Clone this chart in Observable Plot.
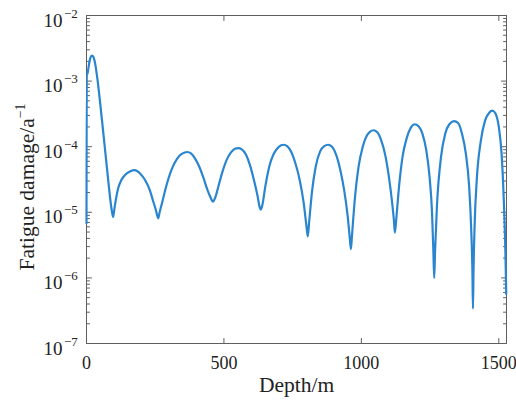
<!DOCTYPE html>
<html><head><meta charset="utf-8">
<script src="https://cdn.jsdelivr.net/npm/d3@7"></script>
<script src="https://cdn.jsdelivr.net/npm/@observablehq/plot@0.6"></script>
<style>
body{margin:0;background:#fff}
svg{font-family:"Liberation Serif","Times New Roman",serif}
</style>
</head><body><div id="chart"></div>
<script>
const depth = [0,1,3,7,12,17,21,26,32,40,50,60,70,80,88,93,97,102,108,115,125,140,158,175,195,215,230,242,252,261,266,275,290,305,320,340,355,367,380,395,410,425,440,452,460,468,480,495,510,525,540,552,565,580,595,610,622,630,634,640,650,665,680,695,708,718,730,745,760,775,790,800,805,810,820,834,850,865,879,893,908,923,938,950,958,962,966,975,990,1005,1020,1032,1044,1058,1072,1087,1100,1112,1118,1122,1127,1135,1150,1165,1180,1194,1208,1222,1236,1248,1257,1262,1265,1268,1275,1290,1305,1320,1337,1352,1366,1380,1392,1400,1404,1406,1408,1412,1420,1435,1450,1465,1477,1488,1500,1510,1518,1524,1527];
const damage = [6.8e-6,1.4e-3,1.26e-3,1.58e-3,2.1e-3,2.4e-3,2.45e-3,2.3e-3,1.8e-3,1.05e-3,4.5e-4,1.8e-4,7.1e-5,2.8e-5,1.4e-5,1.0e-5,8.5e-6,1.17e-5,1.66e-5,2.3e-5,3.0e-5,3.7e-5,4.2e-5,4.4e-5,3.9e-5,3.0e-5,2.2e-5,1.5e-5,1.1e-5,8.1e-6,1.0e-5,1.4e-5,2.5e-5,4.0e-5,5.6e-5,7.4e-5,8.1e-5,8.3e-5,7.9e-5,6.6e-5,5.0e-5,3.4e-5,2.2e-5,1.66e-5,1.45e-5,1.66e-5,2.5e-5,4.2e-5,6.3e-5,8.1e-5,9.3e-5,9.5e-5,9.1e-5,7.6e-5,5.2e-5,3.0e-5,1.8e-5,1.2e-5,1.1e-5,1.3e-5,2.4e-5,5.0e-5,7.6e-5,9.5e-5,1.05e-4,1.07e-4,1.02e-4,8.3e-5,5.6e-5,3.2e-5,1.4e-5,6.3e-6,4.3e-6,7.1e-6,2.0e-5,5.0e-5,8.5e-5,1.02e-4,1.07e-4,1.0e-4,7.6e-5,4.5e-5,2.1e-5,8.9e-6,4.0e-6,2.75e-6,4.5e-6,1.4e-5,5.0e-5,1.0e-4,1.48e-4,1.7e-4,1.78e-4,1.66e-4,1.26e-4,7.4e-5,3.5e-5,1.4e-5,7.9e-6,4.9e-6,7.9e-6,2.0e-5,7.1e-5,1.35e-4,1.95e-4,2.2e-4,2.05e-4,1.58e-4,8.9e-5,3.5e-5,1.0e-5,2.5e-6,1.0e-6,2.5e-6,1.26e-5,7.1e-5,1.58e-4,2.2e-4,2.45e-4,2.3e-4,1.58e-4,7.9e-5,2.5e-5,5.0e-6,1.26e-6,3.4e-7,1.26e-6,6.3e-6,3.2e-5,1.26e-4,2.5e-4,3.3e-4,3.55e-4,3.2e-4,2.0e-4,7.9e-5,1.6e-5,2.5e-6,5.7e-7];

const xTicks = [0, 500, 1000, 1500];
const yMajor = [1e-7, 1e-6, 1e-5, 1e-4, 1e-3, 1e-2];
const yExponents = ["\u22127", "\u22126", "\u22125", "\u22124", "\u22123", "\u22122"];
const yMinor = [];
for (let e = -7; e < -2; e++) for (let m = 2; m <= 9; m++) yMinor.push(m * Math.pow(10, e));

const xLabel = "Depth/m";
const yLabel = "Fatigue damage/a";
const yLabelSup = "\u22121";

const data = depth.map((d, i) => ({depth: d, damage: damage[i]}));

const axisColor = "#5f5f5f";
const tickShape = {draw(context, l) { context.moveTo(0, 0); context.lineTo(0, -l); }};

const tickMarks = (values, channel, frameAnchor, rotate, length) =>
  Plot.vector(values, {[channel]: d => d, frameAnchor, rotate, length, anchor: "start",
    shape: tickShape, stroke: axisColor, strokeWidth: 1});

const chart = Plot.plot({
  width: 516, height: 400,
  marginLeft: 86, marginRight: 10, marginTop: 15, marginBottom: 57,
  style: {fontFamily: '"Liberation Serif","Times New Roman",serif', background: "#fff"},
  x: {domain: [0, 1528], axis: null},
  y: {type: "log", domain: [1e-7, 1e-2], axis: null},
  marks: [
    Plot.frame({stroke: axisColor, strokeWidth: 1}),
    tickMarks(xTicks, "x", "bottom", 0, 5),
    tickMarks(xTicks, "x", "top", 180, 5),
    tickMarks(yMajor, "y", "left", 90, 5),
    tickMarks(yMajor, "y", "right", -90, 5),
    tickMarks(yMinor, "y", "left", 90, 3),
    tickMarks(yMinor, "y", "right", -90, 3),
    Plot.line(data, {x: "depth", y: "damage", stroke: "#2a85cf", strokeWidth: 2.2, curve: "monotone-x"}),
    Plot.text(xTicks, {x: d => d, frameAnchor: "bottom", dy: 20, text: d => String(d), fontSize: 18, fill: "#222", lineAnchor: "middle"}),
    Plot.text(yMajor, {y: d => d, frameAnchor: "left", dx: -24, dy: 5, text: () => "10", textAnchor: "end", fontSize: 19, fill: "#222", lineAnchor: "middle"}),
    Plot.text(yMajor, {y: d => d, frameAnchor: "left", dx: -22.5, dy: -2, text: (d, i) => yExponents[i], textAnchor: "start", fontSize: 13, fill: "#222", lineAnchor: "middle"}),
    Plot.text([xLabel], {frameAnchor: "bottom", dy: 42, text: d => d, fontSize: 21.5, fill: "#222", lineAnchor: "middle"}),
    Plot.text([yLabel], {frameAnchor: "left", dx: -53, dy: 91, text: d => d, rotate: -90, textAnchor: "start", lineAnchor: "bottom", fontSize: 21.5, fill: "#222"})
  ]
});

d3.select(chart).selectAll("text").filter(function() { return this.textContent === yLabel; }).each(function() {
  d3.select(this).append("tspan").attr("dy", "-0.6em").attr("font-size", "0.65em").text(yLabelSup);
});

document.getElementById("chart").appendChild(chart);
</script>
</body></html>
